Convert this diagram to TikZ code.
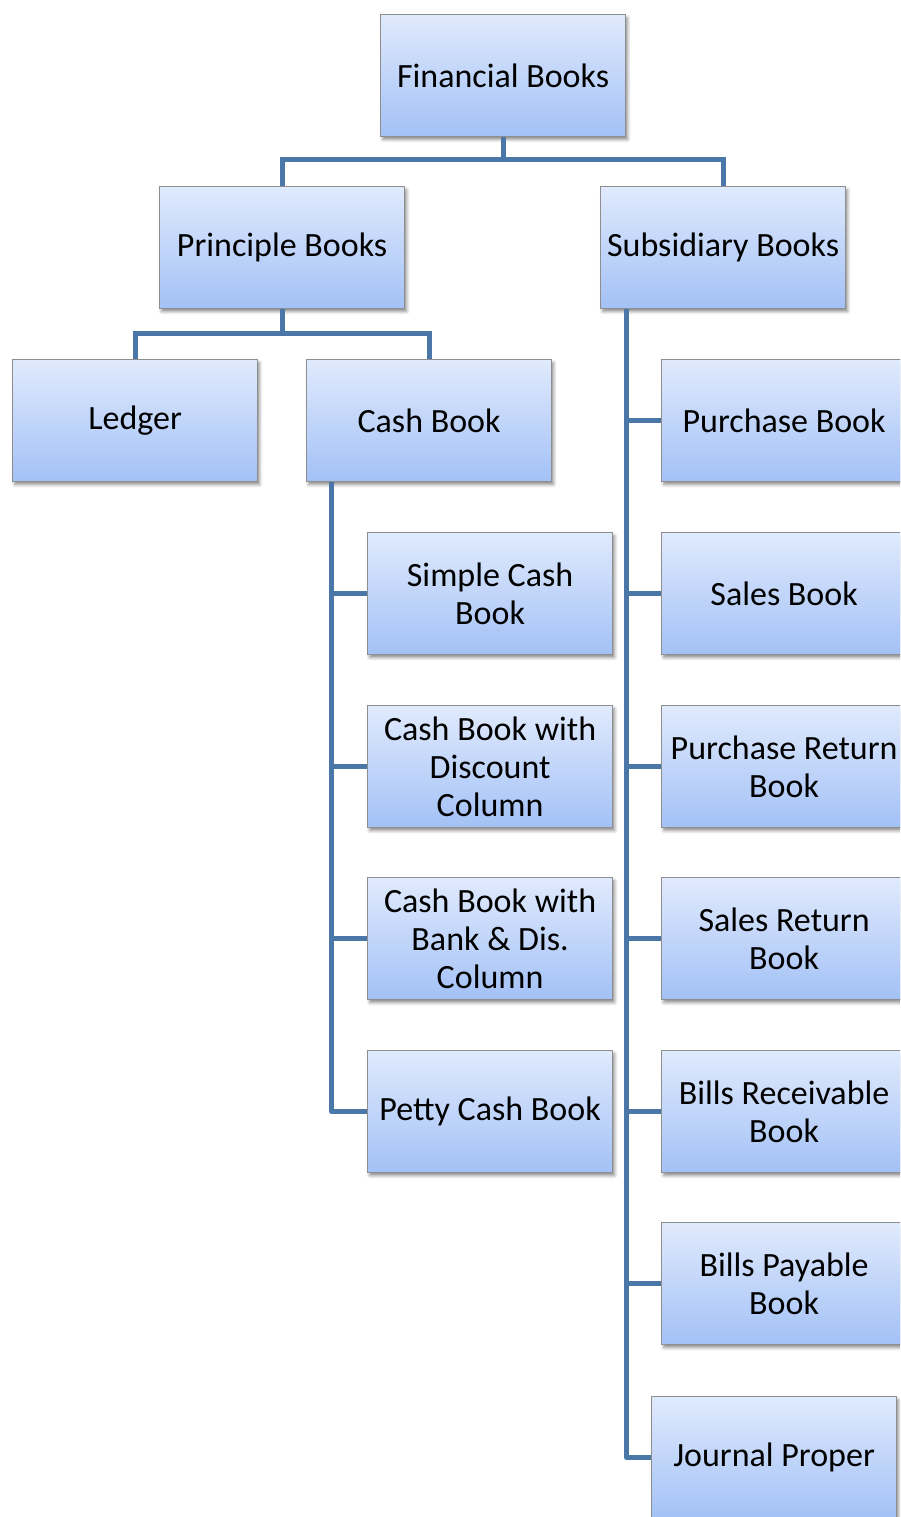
\documentclass[tikz,border=0pt]{standalone}
\usepackage{fontspec}
\setmainfont{Carlito}
\usetikzlibrary{shadows.blur}
\definecolor{boxtop}{HTML}{E0EAFD}
\definecolor{boxbot}{HTML}{A3C1F6}
\definecolor{boxedge}{HTML}{8E8E8E}
\definecolor{connblue}{HTML}{4A76A8}
\tikzset{
  book/.style={draw=boxedge, line width=1.2pt, top color=boxtop, bottom color=boxbot,
    minimum width=245pt, minimum height=122pt, inner sep=0pt, anchor=north west,
    align=center, font=\fontsize{34}{38}\selectfont,
    blur shadow={shadow xshift=2pt, shadow yshift=-3pt, shadow blur radius=3pt, shadow opacity=45}},
  conn/.style={draw=connblue, line width=5pt}
}
\begin{document}
\begin{tikzpicture}[x=1pt,y=-1pt]
\useasboundingbox (0,0) rectangle (900,1517);
\clip (0,0) rectangle (900,1517);

% boxes
\node[book] (fin)  at (380,14)   {Financial Books};
\node[book] (prin) at (159,186)  {Principle Books};
\node[book] (sub)  at (600,186)  {Subsidiary Books};
\node[book] (led)  at (12,359)   {Ledger};
\node[book] (cash) at (306,359)  {Cash Book};
\node[book] (scb)  at (367,532)  {Simple Cash\\Book};
\node[book] (cbd)  at (367,705)  {Cash Book with\\Discount\\Column};
\node[book] (cbb)  at (367,877)  {Cash Book with\\Bank \& Dis.\\Column};
\node[book] (pcb)  at (367,1050) {Petty Cash Book};
\node[book] (pur)  at (661,359)  {Purchase Book};
\node[book] (sal)  at (661,532)  {Sales Book};
\node[book] (prb)  at (661,705)  {Purchase Return\\Book};
\node[book] (srb)  at (661,877)  {Sales Return\\Book};
\node[book] (brb)  at (661,1050) {Bills Receivable\\Book};
\node[book] (bpb)  at (661,1222) {Bills Payable\\Book};
\node[book] (jp)   at (651,1396) {Journal Proper};

% junction points of the two upper levels, and the two vertical buses
\coordinate (j1) at (fin.south |- 0,160);
\coordinate (j2) at (prin.south |- 0,333);
\coordinate (cbus) at ([xshift=-97.5pt]cash.south);
\coordinate (sbus) at ([xshift=-96.5pt]sub.south);

% top levels
\draw[conn] (fin.south) -- (j1);
\draw[conn] (prin.north) |- (j1) -| (sub.north);
\draw[conn] (prin.south) -- (j2);
\draw[conn] (led.north) |- (j2) -| (cash.north);

% cash book branches
\foreach \n in {scb,cbd,cbb} \draw[conn] (cbus) |- (\n.west);
\draw[conn, line join=round] (cbus) |- (pcb.west);

% subsidiary branches
\foreach \n in {pur,sal,prb,srb,brb,bpb} \draw[conn] (sbus) |- (\n.west);
\draw[conn, line join=round] (sbus) |- (jp.west);
\end{tikzpicture}
\end{document}
